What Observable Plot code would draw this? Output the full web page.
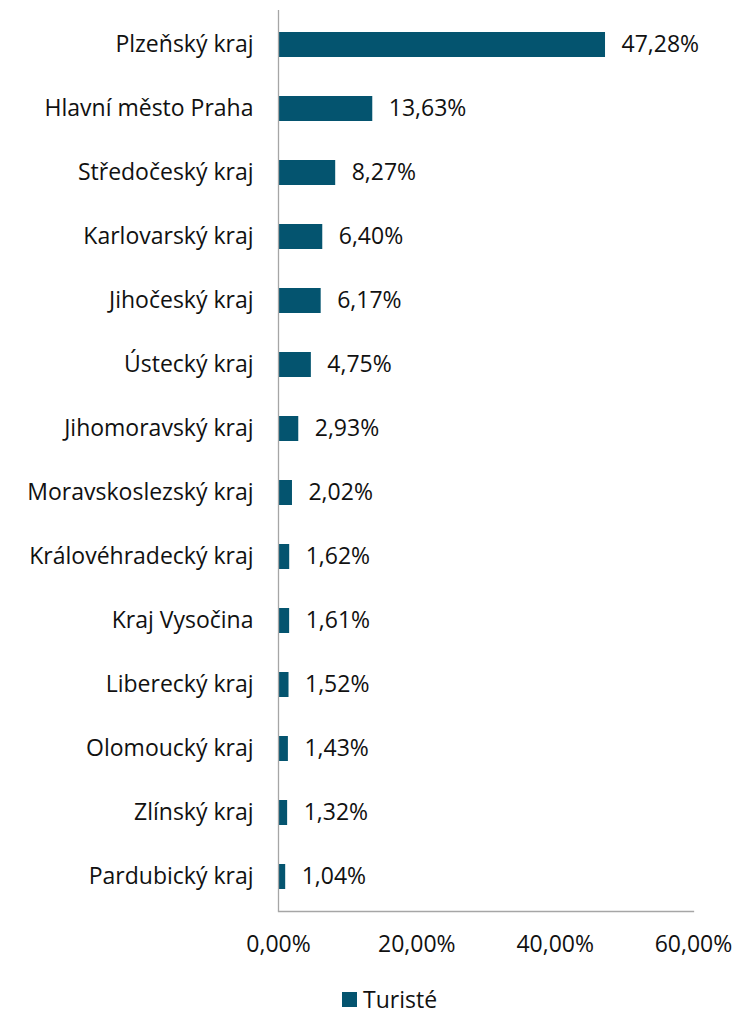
<!DOCTYPE html>
<html><head><meta charset="utf-8">
<script src="https://cdn.jsdelivr.net/npm/d3@7"></script>
<script src="https://cdn.jsdelivr.net/npm/@observablehq/plot@0.6"></script>
<style>
body{margin:0;background:#fff;font-family:"Open Sans",sans-serif;}
#wrap{position:relative;width:737px;height:1014px;}
#legend{position:absolute;left:342px;top:983px;font-size:23px;color:#111;display:flex;align-items:center;}
#legend span.sw{display:inline-block;width:15px;height:15px;background:#04546F;margin-right:6px;}
</style></head><body>
<div id="wrap"><div id="chart"></div><div id="legend"><span class="sw"></span>Turisté</div></div>
<script>
const regions = ["Plzeňský kraj","Hlavní město Praha","Středočeský kraj","Karlovarský kraj","Jihočeský kraj","Ústecký kraj","Jihomoravský kraj","Moravskoslezský kraj","Královéhradecký kraj","Kraj Vysočina","Liberecký kraj","Olomoucký kraj","Zlínský kraj","Pardubický kraj"];
const values = [47.28,13.63,8.27,6.40,6.17,4.75,2.93,2.02,1.62,1.61,1.52,1.43,1.32,1.04];
const xTicks = [0,20,40,60];
const data = regions.map((r,i)=>({region:r, value:values[i]}));
const fmt = v => v.toFixed(2).replace(".", ",") + "%";
const color = "#04546F";
const FS = 23;
const chart = Plot.plot({
  width: 737, height: 965,
  marginLeft: 278, marginRight: 44, marginTop: 10, marginBottom: 54,
  style: {fontFamily: "'Open Sans', sans-serif", fontSize: FS + "px", color: "#111", background: "#fff"},
  x: {domain: [0,60], label: null},
  y: {domain: regions, paddingInner: 0.61, paddingOuter: 0.305, label: null},
  marks: [
    Plot.barX(data, {x: "value", y: "region", fill: color}),
    Plot.text(data, {x: "value", y: "region", text: d => fmt(d.value), textAnchor: "start", dx: 16, fill: "#111", fontSize: FS}),
    Plot.axisY({tickSize: 0, tickPadding: 25, fontSize: FS, label: null}),
    Plot.axisX({ticks: xTicks, tickFormat: fmt, tickSize: 0, tickPadding: 24, fontSize: FS, label: null}),
    Plot.ruleX([0], {stroke: "#A6A6A6", strokeWidth: 1.3}),
    Plot.frame({anchor: "bottom", stroke: "#A6A6A6", strokeWidth: 1.3})
  ]
});
document.getElementById("chart").appendChild(chart);
</script></body></html>
